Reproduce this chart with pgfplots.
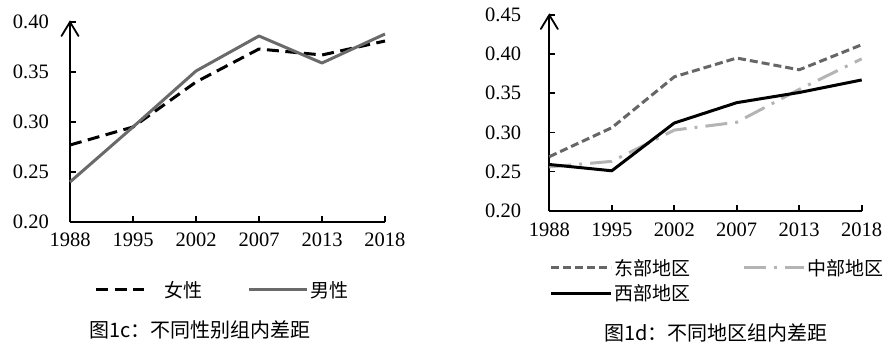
\documentclass[border=0pt]{standalone}
\usepackage{fontspec}
\setmainfont{Liberation Serif}
\newfontfamily\cjk{Noto Sans CJK SC}
\usepackage{pgfplots}
\pgfplotsset{compat=1.18}
\usetikzlibrary{arrows.meta}
\definecolor{male}{HTML}{6A6A6A}
\definecolor{east}{HTML}{666666}
\definecolor{mid}{HTML}{B4B4B4}
\pgfplotsset{
 limgA/.style={legend image code/.code={\draw[##1] (0pt,0pt) -- (48pt,0pt); \path (67pt,0pt);}},
 limgB/.style={legend image code/.code={\draw[##1] (0pt,0pt) -- (58pt,0pt); \path (60pt,0pt);}},
 limgC/.style={legend image code/.code={\draw[##1] (0pt,0pt) -- (60pt,0pt); \path (62pt,0pt);}},
 mystyle/.style={
  scale only axis,
  axis x line*=bottom,
  axis y line*=left,
  xmin=0,xmax=5,
  xtick={0,1,2,3,4,5},
  xticklabels={1988,1995,2002,2007,2013,2018},
  tick align=inside,
  major tick length=6pt,
  every tick/.style={black, line width=1.8pt},
  axis line style={line width=1.8pt, black, -},
  ticklabel style={font=\fontsize{20.5}{24}\selectfont, inner sep=0pt},
  /pgf/number format/assume math mode=true,
  /pgf/number format/fixed, /pgf/number format/fixed zerofill, /pgf/number format/precision=2,
  clip=false,
  legend style={draw=none, fill=none, inner sep=0pt, outer sep=0pt, font=\cjk\fontsize{19}{23}\selectfont, nodes={inner sep=0pt}},
  legend cell align=left,
  legend columns=2,
  extra description/.code={
    \draw[black, line width=1.8pt, line cap=round, line join=miter]
      ([xshift=-8.5pt,yshift=-14pt]axis description cs:0,1) --
      (axis description cs:0,1) --
      ([xshift=8.5pt,yshift=-14pt]axis description cs:0,1);
  },
 }
}
\begin{document}
\begin{tikzpicture}
\useasboundingbox (0,0) rectangle (888pt,347pt);
\begin{axis}[mystyle,
  at={(70pt,125pt)}, anchor=south west,
  width=315pt, height=200pt,
  ymin=0.2, ymax=0.4,
  ytick={0.2,0.25,0.3,0.35,0.4},
  yticklabel style={anchor=east, xshift=-21pt},
  xticklabel style={anchor=north, yshift=-11pt},
  legend style={at={(0.079,-0.34)}, anchor=west,
    /tikz/every even column/.append style={column sep=45pt}},
]
\addplot[black, line width=3pt, line join=round, dash pattern=on 12pt off 6.5pt, limgA]
  coordinates {(0,0.277)(1,0.295)(2,0.340)(3,0.373)(4,0.367)(5,0.381)};
\addlegendentry{女性}
\addplot[male, line width=3pt, line join=round, limgB]
  coordinates {(0,0.240)(1,0.295)(2,0.351)(3,0.386)(4,0.359)(5,0.388)};
\addlegendentry{男性}
\end{axis}

\begin{axis}[mystyle,
  at={(549.3pt,136.3pt)}, anchor=south west,
  width=312.4pt, height=195.7pt,
  ymin=0.2, ymax=0.45,
  ytick={0.2,0.25,0.3,0.35,0.4,0.45},
  yticklabel style={anchor=east, xshift=-28pt},
  xticklabel style={anchor=north, yshift=-12pt},
  legend style={at={(0.002,-0.247)}, anchor=north west, row sep=8pt,
    /tikz/every even column/.append style={column sep=52pt}},
]
\addplot[east, line width=3pt, line join=round, dash pattern=on 8pt off 4pt, limgC]
  coordinates {(0,0.269)(1,0.306)(2,0.371)(3,0.395)(4,0.380)(5,0.412)};
\addlegendentry{东部地区}
\addplot[mid, line width=3pt, line join=round, dash pattern=on 22pt off 8pt on 3pt off 8pt, limgC]
  coordinates {(0,0.256)(1,0.263)(2,0.303)(3,0.313)(4,0.355)(5,0.394)};
\addlegendentry{中部地区}
\addplot[black, line width=3pt, line join=round, limgC]
  coordinates {(0,0.259)(1,0.251)(2,0.312)(3,0.338)(4,0.351)(5,0.367)};
\addlegendentry{西部地区}
\end{axis}

\node[font=\cjk\fontsize{20}{24}\selectfont] at (200pt,17pt) {图1c：不同性别组内差距};
\node[font=\cjk\fontsize{20}{24}\selectfont] at (716pt,14pt) {图1d：不同地区组内差距};
\end{tikzpicture}
\end{document}
